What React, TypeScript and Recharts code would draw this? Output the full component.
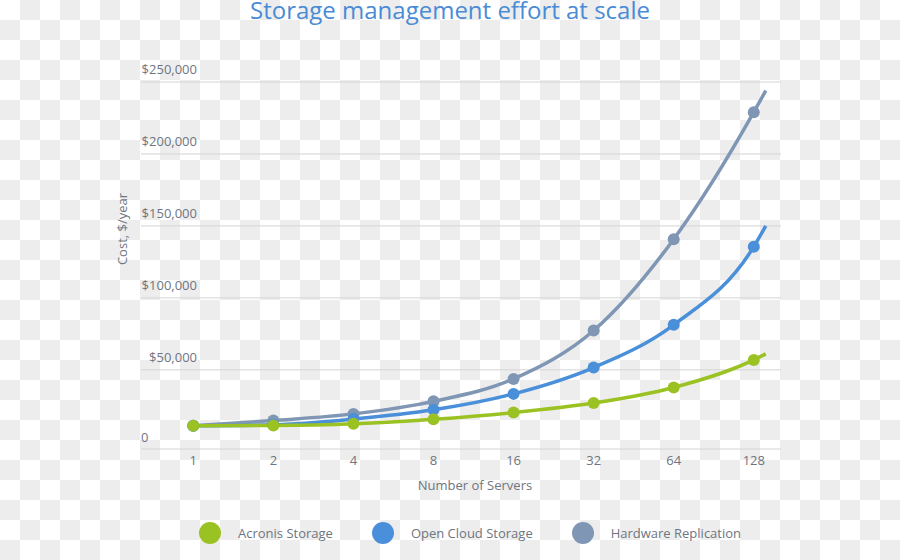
import React from 'react';
import { LineChart, Line, XAxis, YAxis, CartesianGrid } from 'recharts';

// Number of servers (last entry is where the curves run out past 128, no marker there)
const servers = [1, 2, 4, 8, 16, 32, 64, 128, 142];
const acronis = [11100, 11300, 12500, 15600, 20300, 26900, 37700, 56900, 61100];
const openCloud = [11100, 11800, 15800, 22200, 33300, 51600, 81300, 135600, 150000];
const hardware = [11100, 14800, 19400, 28100, 43700, 77300, 140800, 229000, 244000];

const xTicks = [1, 2, 4, 8, 16, 32, 64, 128];
const yTicks = [0, 50000, 100000, 150000, 200000, 250000];
const Y_MIN = -5000;
const Y_MAX = 250000;

const series = [
  { key: 'hardware', name: 'Hardware Replication', color: '#7f96b4' },
  { key: 'openCloud', name: 'Open Cloud Storage', color: '#4a8fd9' },
  { key: 'acronis', name: 'Acronis Storage', color: '#9bc223' },
];
const legendOrder = ['acronis', 'openCloud', 'hardware'];

const data = servers.map((s, i) => ({
  servers: s,
  acronis: acronis[i],
  openCloud: openCloud[i],
  hardware: hardware[i],
}));

const FONT = '"Open Sans", sans-serif';
const TEXT = '#6e7581';
const PLOT_LEFT = 141;

const fmtMoney = (v: number) => (v === 0 ? '0' : '$' + v.toLocaleString('en-US'));

const renderYTick = (props: any) => {
  const { y, payload, index } = props;
  const v = payload.value;
  // the zero label sits at the left edge, the others are right aligned above their gridline
  if (v === 0) {
    return (
      <text key={`yt-${index}`} x={PLOT_LEFT} y={y} textAnchor="start" fill={TEXT} fontSize={13} fontFamily={FONT}>
        {fmtMoney(v)}
      </text>
    );
  }
  return (
    <text key={`yt-${index}`} x={PLOT_LEFT + 56} y={y - 8} textAnchor="end" fill={TEXT} fontSize={13} fontFamily={FONT}>
      {fmtMoney(v)}
    </text>
  );
};

// gridlines for every tick except zero (the axis line at the bottom stands in for it)
const gridRows = (p: any) => {
  const top = p.offset.top;
  const h = p.offset.height;
  return yTicks
    .filter((v) => v > 0)
    .map((v) => top + ((Y_MAX - v) / (Y_MAX - Y_MIN)) * h);
};

const dotFor = (color: string) => (props: any) => {
  const { cx, cy, index } = props;
  if (index >= xTicks.length) return <g key={`x-${index}`} />;
  return <circle key={`d-${index}`} cx={cx} cy={cy} r={6} fill={color} />;
};

export default function App() {
  return (
    <div
      style={{
        position: 'absolute',
        left: 0,
        top: 0,
        width: 900,
        height: 560,
        background: 'repeating-conic-gradient(#ededed 0% 25%, #ffffff 0% 50%) 0 0 / 40px 40px',
        fontFamily: FONT,
        overflow: 'hidden',
      }}
    >
      <div
        style={{
          position: 'absolute',
          left: 0,
          width: 900,
          top: 0,
          lineHeight: '20px',
          textAlign: 'center',
          fontSize: 24,
          color: '#4a8bd6',
          whiteSpace: 'nowrap',
        }}
      >
        Storage management effort at scale
      </div>

      <LineChart
        width={900}
        height={560}
        data={data}
        margin={{ top: 82, right: 119, bottom: 71, left: 140 }}
        style={{ position: 'absolute', left: 0, top: 0 }}
      >
        <CartesianGrid vertical={false} stroke="#d4d4d4" horizontalCoordinatesGenerator={gridRows} />
        <XAxis
          dataKey="servers"
          type="number"
          scale="log"
          domain={[0.636, 162]}
          ticks={xTicks}
          allowDataOverflow
          height={40}
          axisLine={{ stroke: '#d4d4d4' }}
          tickLine={false}
          tickSize={0}
          tickMargin={7}
          tick={{ fill: TEXT, fontSize: 13, fontFamily: FONT }}
          tickFormatter={(v: number) => String(v)}
        />
        <YAxis
          width={1}
          domain={[Y_MIN, Y_MAX]}
          ticks={yTicks}
          axisLine={false}
          tickLine={false}
          tickSize={0}
          tickMargin={0}
          tick={renderYTick}
        />
        {series.map((s) => (
          <Line
            key={s.key}
            type="monotone"
            dataKey={s.key}
            stroke={s.color}
            strokeWidth={3.5}
            dot={dotFor(s.color)}
            activeDot={false}
            isAnimationActive={false}
          />
        ))}
      </LineChart>

      <div
        style={{
          position: 'absolute',
          left: 36,
          top: 221,
          width: 170,
          textAlign: 'center',
          transform: 'rotate(-90deg)',
          transformOrigin: '85px 8px',
          fontSize: 13,
          color: TEXT,
        }}
      >
        Cost, $/year
      </div>

      <div
        style={{
          position: 'absolute',
          left: 375,
          width: 200,
          top: 476,
          textAlign: 'center',
          fontSize: 13,
          color: TEXT,
        }}
      >
        Number of Servers
      </div>

      <div
        style={{
          position: 'absolute',
          left: 199,
          top: 522,
          display: 'flex',
          alignItems: 'center',
          gap: 39,
        }}
      >
        {legendOrder.map((k) => {
          const s = series.find((x) => x.key === k)!;
          return (
            <div key={k} style={{ display: 'flex', alignItems: 'center' }}>
              <span
                style={{
                  width: 22,
                  height: 22,
                  borderRadius: '50%',
                  background: s.color,
                  display: 'inline-block',
                  marginRight: 17,
                }}
              />
              <span style={{ fontSize: 13, color: TEXT }}>{s.name}</span>
            </div>
          );
        })}
      </div>
    </div>
  );
}
